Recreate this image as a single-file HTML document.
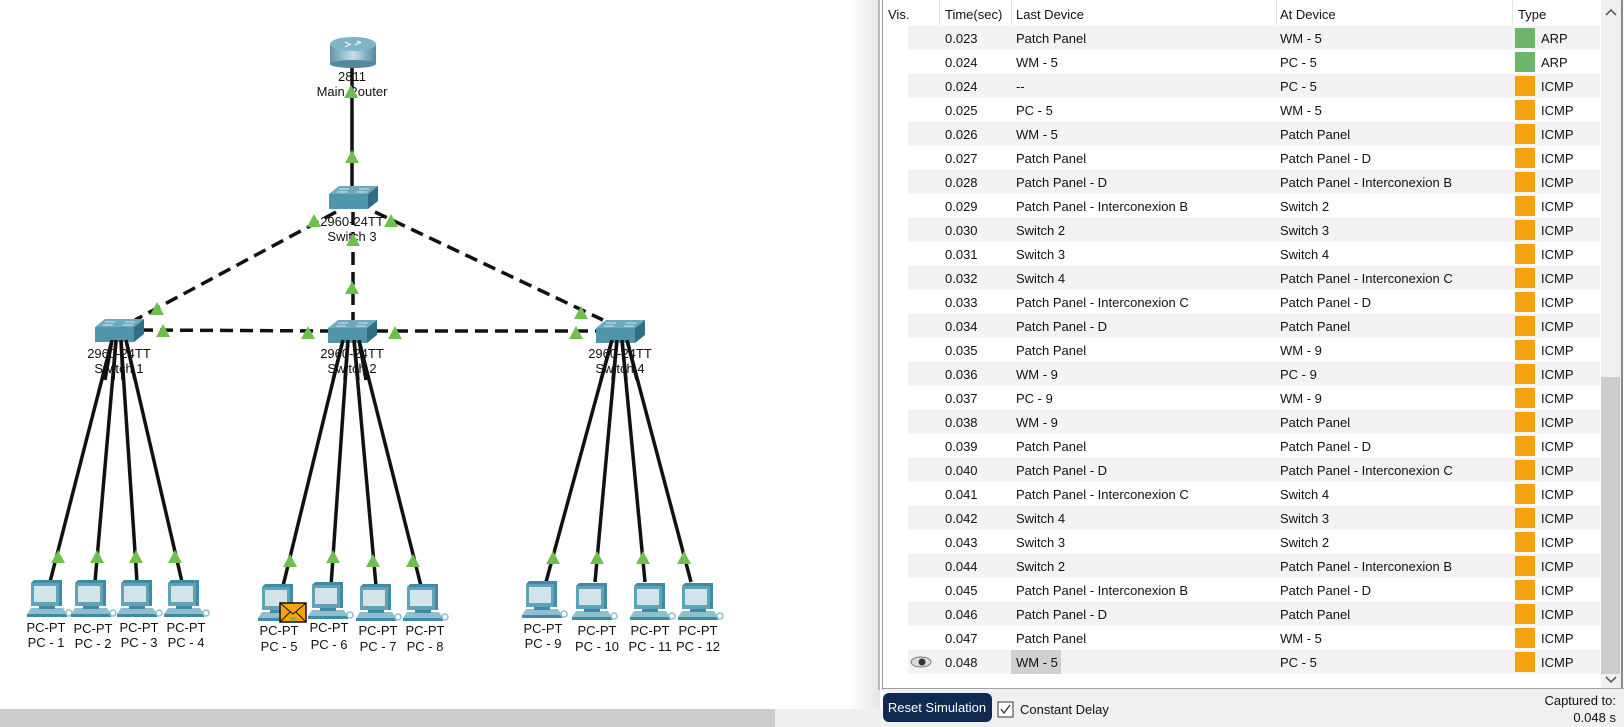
<!DOCTYPE html>
<html><head><meta charset="utf-8"><style>
html,body{margin:0;padding:0;background:#fff;width:1624px;height:727px;overflow:hidden}
svg{display:block}
text{font-family:"Liberation Sans",Arial,sans-serif}
</style></head><body>
<svg width="1624" height="727" viewBox="0 0 1624 727" xmlns="http://www.w3.org/2000/svg">
<defs>
<linearGradient id="g" x1="0" x2="1"><stop offset="0" stop-color="#fff"/><stop offset="1" stop-color="#e6e6e6"/></linearGradient>
<linearGradient id="rt" x1="0" x2="1"><stop offset="0" stop-color="#5d97aa"/><stop offset=".5" stop-color="#c6e0ea"/><stop offset="1" stop-color="#4f8ba0"/></linearGradient>
<g id="pc">
 <path d="M-16,-1 L-13,-4 L15,-4 L15,22 L-16,22 Z" fill="#3f8aa5"/>
 <rect x="-16" y="-1" width="28" height="23" fill="#5fa3bb"/>
 <rect x="-13" y="2" width="22" height="16" fill="#d3e3ea"/>
 <path d="M-20,30 L-16,24 L16,24 L20,30 Z" fill="#8fbfcf"/>
 <rect x="-20" y="30" width="40" height="3" fill="#3f8aa5"/>
 <rect x="-8" y="22" width="16" height="3" fill="#3f8aa5"/>
 <circle cx="22" cy="29" r="3" fill="none" stroke="#8fbfcf" stroke-width="1.5"/>
</g>
<g id="sw">
 <path d="M-24,-4 L-14,-12 L25,-12 L15,-4 Z" fill="#6fa9bd"/>
 <rect x="-24" y="-4" width="39" height="15" fill="#4f95ad"/>
 <path d="M15,-4 L25,-12 L25,3 L15,11 Z" fill="#2f6e85"/>
 <path d="M-14,-9 h10 M6,-9 h10 M-16,-6 h10 M4,-6 h10" stroke="#cfe6ee" stroke-width="1"/>
</g>
<polygon id="ar" points="0,-7 7,6 -7,6" fill="#6fbf4f"/>
</defs>

<!-- canvas gradient edge -->
<rect x="850" y="0" width="30" height="727" fill="url(#g)"/>
<rect x="878" y="0" width="2" height="690" fill="#b8b8b8"/>
<rect x="882" y="0" width="1" height="690" fill="#a0a0a0"/>
<!-- left bottom scrollbar -->
<rect x="0" y="709" width="775" height="18" fill="#cccccc"/>
<rect x="775" y="709" width="107" height="18" fill="#efefef"/>

<!-- connectors -->
<g stroke="#111" stroke-width="3.5" fill="none">
 <line x1="352" y1="62" x2="352" y2="190"/>
 <g stroke-dasharray="13,7">
  <line x1="336" y1="212" x2="135" y2="320"/>
  <line x1="375" y1="212" x2="603" y2="320"/>
  <line x1="353" y1="212" x2="353" y2="322"/>
  <line x1="140" y1="330" x2="330" y2="331"/>
  <line x1="375" y1="331" x2="600" y2="331"/>
 </g>
 <line x1="112" y1="340" x2="50" y2="582"/>
 <line x1="116" y1="340" x2="95" y2="582"/>
 <line x1="121" y1="340" x2="137" y2="582"/>
 <line x1="126" y1="340" x2="182" y2="582"/>
 <line x1="343" y1="340" x2="283" y2="586"/>
 <line x1="348" y1="340" x2="331" y2="586"/>
 <line x1="354" y1="340" x2="376" y2="586"/>
 <line x1="359" y1="340" x2="421" y2="586"/>
 <line x1="612" y1="340" x2="546" y2="582"/>
 <line x1="617" y1="340" x2="595" y2="582"/>
 <line x1="622" y1="340" x2="645" y2="582"/>
 <line x1="627" y1="340" x2="691" y2="582"/>
</g>

<!-- router -->
<g>
 <rect x="330" y="44" width="46" height="20" fill="url(#rt)"/>
 <ellipse cx="353" cy="64" rx="23" ry="4" fill="#4f8ba0"/>
 <ellipse cx="353" cy="44" rx="23" ry="7" fill="#7fb5c7"/>
 <path d="M345,42 l6,3 M355,45 l6,-3 M345,47 l4,-2 M357,41 l4,2" stroke="#fff" stroke-width="1.2"/>
</g>
<!-- switches -->
<use href="#sw" x="353" y="198"/>
<use href="#sw" x="119" y="331"/>
<use href="#sw" x="352" y="332"/>
<use href="#sw" x="620" y="332"/>

<g font-size="13" fill="#111" text-anchor="middle">
 <text x="352" y="81">2811</text><text x="352" y="96">Main Router</text>
 <text x="352" y="226">2960-24TT</text><text x="352" y="241">Switch 3</text>
 <text x="119" y="358">2960-24TT</text><text x="119" y="373">Switch 1</text>
 <text x="352" y="358">2960-24TT</text><text x="352" y="373">Switch 2</text>
 <text x="620" y="358">2960-24TT</text><text x="620" y="373">Switch 4</text>
</g>
<!-- redraw fan lines over labels -->
<g stroke="#111" stroke-width="3.5">
 <line x1="112" y1="340" x2="105" y2="380"/><line x1="116" y1="340" x2="113" y2="380"/><line x1="121" y1="340" x2="123" y2="380"/><line x1="126" y1="340" x2="135" y2="380"/>
 <line x1="343" y1="340" x2="333" y2="380"/><line x1="348" y1="340" x2="345" y2="380"/><line x1="354" y1="340" x2="358" y2="380"/><line x1="359" y1="340" x2="366" y2="380"/>
 <line x1="612" y1="340" x2="601" y2="380"/><line x1="617" y1="340" x2="613" y2="380"/><line x1="622" y1="340" x2="626" y2="380"/><line x1="627" y1="340" x2="637" y2="380"/>
</g>

<!-- PCs -->
<use href="#pc" x="47" y="584"/><use href="#pc" x="91" y="584"/><use href="#pc" x="137" y="584"/><use href="#pc" x="184" y="584"/>
<use href="#pc" x="278" y="588"/><use href="#pc" x="328" y="586"/><use href="#pc" x="376" y="588"/><use href="#pc" x="423" y="588"/>
<use href="#pc" x="542" y="585"/><use href="#pc" x="592" y="587"/><use href="#pc" x="650" y="587"/><use href="#pc" x="698" y="587"/>
<g font-size="13" fill="#111" text-anchor="middle">
 <text x="46" y="632">PC-PT</text><text x="46" y="647">PC - 1</text>
 <text x="93" y="633">PC-PT</text><text x="93" y="648">PC - 2</text>
 <text x="139" y="632">PC-PT</text><text x="139" y="647">PC - 3</text>
 <text x="186" y="632">PC-PT</text><text x="186" y="647">PC - 4</text>
 <text x="279" y="635">PC-PT</text><text x="279" y="651">PC - 5</text>
 <text x="329" y="632">PC-PT</text><text x="329" y="649">PC - 6</text>
 <text x="378" y="635">PC-PT</text><text x="378" y="651">PC - 7</text>
 <text x="425" y="635">PC-PT</text><text x="425" y="651">PC - 8</text>
 <text x="543" y="633">PC-PT</text><text x="543" y="648">PC - 9</text>
 <text x="597" y="635">PC-PT</text><text x="597" y="651">PC - 10</text>
 <text x="650" y="635">PC-PT</text><text x="650" y="651">PC - 11</text>
 <text x="698" y="635">PC-PT</text><text x="698" y="651">PC - 12</text>
</g>
<!-- envelope -->
<rect x="280" y="603" width="26" height="19" fill="#f5a512" stroke="#111" stroke-width="1.5"/>
<path d="M280,603 L293,614 L306,603 M280,622 L290,612 M306,622 L296,612" stroke="#111" fill="none" stroke-width="1"/>
<polygon points="289,617 297,617 293,622" fill="#6fbf4f"/>

<!-- arrows -->
<use href="#ar" x="352" y="157"/><use href="#ar" x="351" y="92"/>
<use href="#ar" x="314" y="221"/><use href="#ar" x="391" y="221"/><use href="#ar" x="353" y="240"/><use href="#ar" x="352" y="288"/>
<use href="#ar" x="157" y="309"/><use href="#ar" x="163" y="331"/><use href="#ar" x="308" y="333"/><use href="#ar" x="395" y="333"/>
<use href="#ar" x="576" y="333"/><use href="#ar" x="581" y="313"/>
<use href="#ar" x="58" y="557"/><use href="#ar" x="97" y="557"/><use href="#ar" x="136" y="557"/><use href="#ar" x="175" y="557"/>
<use href="#ar" x="290" y="561"/><use href="#ar" x="333" y="557"/><use href="#ar" x="373" y="561"/><use href="#ar" x="413" y="561"/>
<use href="#ar" x="553" y="558"/><use href="#ar" x="597" y="558"/><use href="#ar" x="643" y="558"/><use href="#ar" x="684" y="558"/>

<!-- table panel -->
<rect x="883" y="0" width="741" height="688" fill="#fff"/>
<rect x="883" y="688" width="741" height="39" fill="#f0f0f0"/>
<rect x="882" y="688" width="742" height="1" fill="#a0a0a0"/>
<rect x="939" y="0" width="1" height="25" fill="#e5e5e5"/>
<rect x="1011" y="0" width="1" height="25" fill="#e5e5e5"/>
<rect x="1276" y="0" width="1" height="25" fill="#e5e5e5"/>
<rect x="1512" y="0" width="1" height="25" fill="#e5e5e5"/>
<g font-size="13" fill="#111">
 <text x="888" y="19">Vis.</text><text x="945" y="19">Time(sec)</text><text x="1016" y="19">Last Device</text><text x="1280" y="19">At Device</text><text x="1518" y="19">Type</text>
</g>
<g id="rows" font-size="13" fill="#111"></g>
<!-- scrollbar -->
<rect x="1601" y="0" width="20" height="688" fill="#f0f0f0"/>
<rect x="1621" y="0" width="2" height="688" fill="#888"/>
<rect x="1601" y="377" width="19" height="297" fill="#cdcdcd"/>
<path d="M1606,15 l5,-5 l5,5" stroke="#606060" stroke-width="1.6" fill="none"/>
<path d="M1606,677 l5,5 l5,-5" stroke="#606060" stroke-width="1.6" fill="none"/>
<!-- bottom controls -->
<rect x="883" y="693" width="109" height="29" rx="6" fill="#0f2a4e"/>
<text x="937" y="712" font-size="13" fill="#fff" text-anchor="middle">Reset Simulation</text>
<rect x="998" y="702" width="15" height="15" fill="#fff" stroke="#333" stroke-width="1"/>
<path d="M1001,709 l3,4 l6,-8" stroke="#333" stroke-width="1.3" fill="none"/>
<text x="1020" y="714" font-size="13" fill="#111">Constant Delay</text>
<text x="1616" y="705" font-size="13" fill="#111" text-anchor="end">Captured to:</text>
<text x="1616" y="722" font-size="13" fill="#111" text-anchor="end">0.048 s</text>
</svg>
<script>
var d=[["0.023","Patch Panel","WM - 5","ARP"],["0.024","WM - 5","PC - 5","ARP"],["0.024","--","PC - 5","ICMP"],["0.025","PC - 5","WM - 5","ICMP"],["0.026","WM - 5","Patch Panel","ICMP"],["0.027","Patch Panel","Patch Panel - D","ICMP"],["0.028","Patch Panel - D","Patch Panel - Interconexion B","ICMP"],["0.029","Patch Panel - Interconexion B","Switch 2","ICMP"],["0.030","Switch 2","Switch 3","ICMP"],["0.031","Switch 3","Switch 4","ICMP"],["0.032","Switch 4","Patch Panel - Interconexion C","ICMP"],["0.033","Patch Panel - Interconexion C","Patch Panel - D","ICMP"],["0.034","Patch Panel - D","Patch Panel","ICMP"],["0.035","Patch Panel","WM - 9","ICMP"],["0.036","WM - 9","PC - 9","ICMP"],["0.037","PC - 9","WM - 9","ICMP"],["0.038","WM - 9","Patch Panel","ICMP"],["0.039","Patch Panel","Patch Panel - D","ICMP"],["0.040","Patch Panel - D","Patch Panel - Interconexion C","ICMP"],["0.041","Patch Panel - Interconexion C","Switch 4","ICMP"],["0.042","Switch 4","Switch 3","ICMP"],["0.043","Switch 3","Switch 2","ICMP"],["0.044","Switch 2","Patch Panel - Interconexion B","ICMP"],["0.045","Patch Panel - Interconexion B","Patch Panel - D","ICMP"],["0.046","Patch Panel - D","Patch Panel","ICMP"],["0.047","Patch Panel","WM - 5","ICMP"],["0.048","WM - 5","PC - 5","ICMP"]];
var g=document.getElementById('rows'),ns='http://www.w3.org/2000/svg',h='';
d.forEach(function(r,i){var y=26+i*24;
 if(i%2==0)h+='<rect x="908" y="'+y+'" width="692" height="24" fill="#f3f3f3"/>';
 if(i==26)h+='<rect x="1011" y="'+y+'" width="50" height="24" fill="#d0d0d0"/><ellipse cx="921" cy="'+(y+12)+'" rx="10" ry="5" fill="#ddd" stroke="#777"/><circle cx="922" cy="'+(y+12)+'" r="3.5" fill="#333"/>';
 var c=r[3]=="ARP"?"#6db56a":"#f5a312";
 h+='<rect x="1515" y="'+(y+2)+'" width="20" height="20" fill="'+c+'"/>';
 h+='<text x="945" y="'+(y+17)+'">'+r[0]+'</text><text x="1016" y="'+(y+17)+'">'+r[1]+'</text><text x="1280" y="'+(y+17)+'">'+r[2]+'</text><text x="1541" y="'+(y+17)+'">'+r[3]+'</text>';
});
g.innerHTML=h;
</script>
</body></html>
